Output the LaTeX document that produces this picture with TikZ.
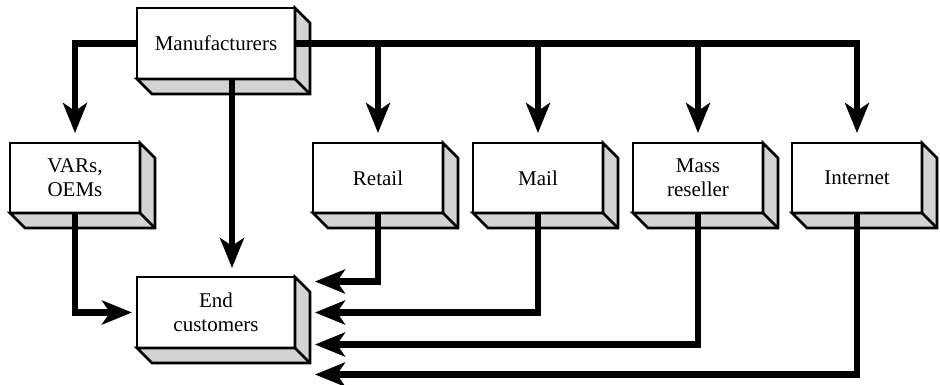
\documentclass[tikz,border=0pt]{standalone}
\usepackage{fontspec}
\setmainfont{Liberation Serif}
\newfontfamily\boxfont{Liberation Serif}
\usetikzlibrary{positioning,arrows.meta}
\definecolor{facegray}{RGB}{209,211,212}

\begin{document}
\begin{tikzpicture}[
  x=1pt, y=1pt,
  box/.style={draw, line width=2.6pt, fill=white, minimum width=130pt, minimum height=70pt,
    inner sep=0pt, outer sep=0pt, align=center, font=\boxfont\fontsize{21}{24}\selectfont},
  wide/.style={box, minimum width=158pt, minimum height=71pt},
  face/.style={fill=facegray, draw, line width=2.6pt, line join=miter},
  conn/.style={line width=6.5pt, -{Stealth[length=30pt,width=24pt,inset=8pt]}}
]
  \useasboundingbox (0,0) rectangle (940,384);

  % boxes
  \node[wide] (mfr) at (216,340.5) {Manufacturers};
  \node[box] (vars) at (75,206) {VARs,\\OEMs};
  \node[box] (retail) at (378,206) {Retail};
  \node[box] (mail) at (538,206) {Mail};
  \node[box] (mass) at (698,206) {Mass\\reseller};
  \node[box] (inet) at (857,206) {Internet};
  \node[wide] (endc) at (216,71.5) {End\\customers};

  \foreach \n in {mfr,vars,retail,mail,mass,inet,endc} {
    \filldraw[face] (\n.south west) -- ++(15,-15) -- ([shift={(15,-15)}]\n.south east)
      -- ([shift={(15,-15)}]\n.north east) -- (\n.north east) -- (\n.south east) -- cycle;
    \draw[face] (\n.south east) -- ++(15,-15);
  }

  % from manufacturers
  \draw[conn] (mfr.west) -| ([yshift=10pt]vars.north);
  \draw[conn] (mfr.east) -| ([yshift=10pt]inet.north);
  \foreach \n in {retail,mail,mass}
    \draw[conn] (\n.north |- mfr.east) -- ([yshift=10pt]\n.north);
  \draw[conn] ([xshift=16pt]mfr.south) -- ([xshift=16pt,yshift=9pt]endc.north);

  % to end customers
  \draw[conn] (vars.south) |- ([xshift=-5pt]endc.west);
  \foreach \n/\dy in {retail/31, mail/0, mass/-32, inet/-62}
    \draw[conn] (\n.south) |- ([xshift=20pt,yshift=\dy pt]endc.east);
\end{tikzpicture}
\end{document}
